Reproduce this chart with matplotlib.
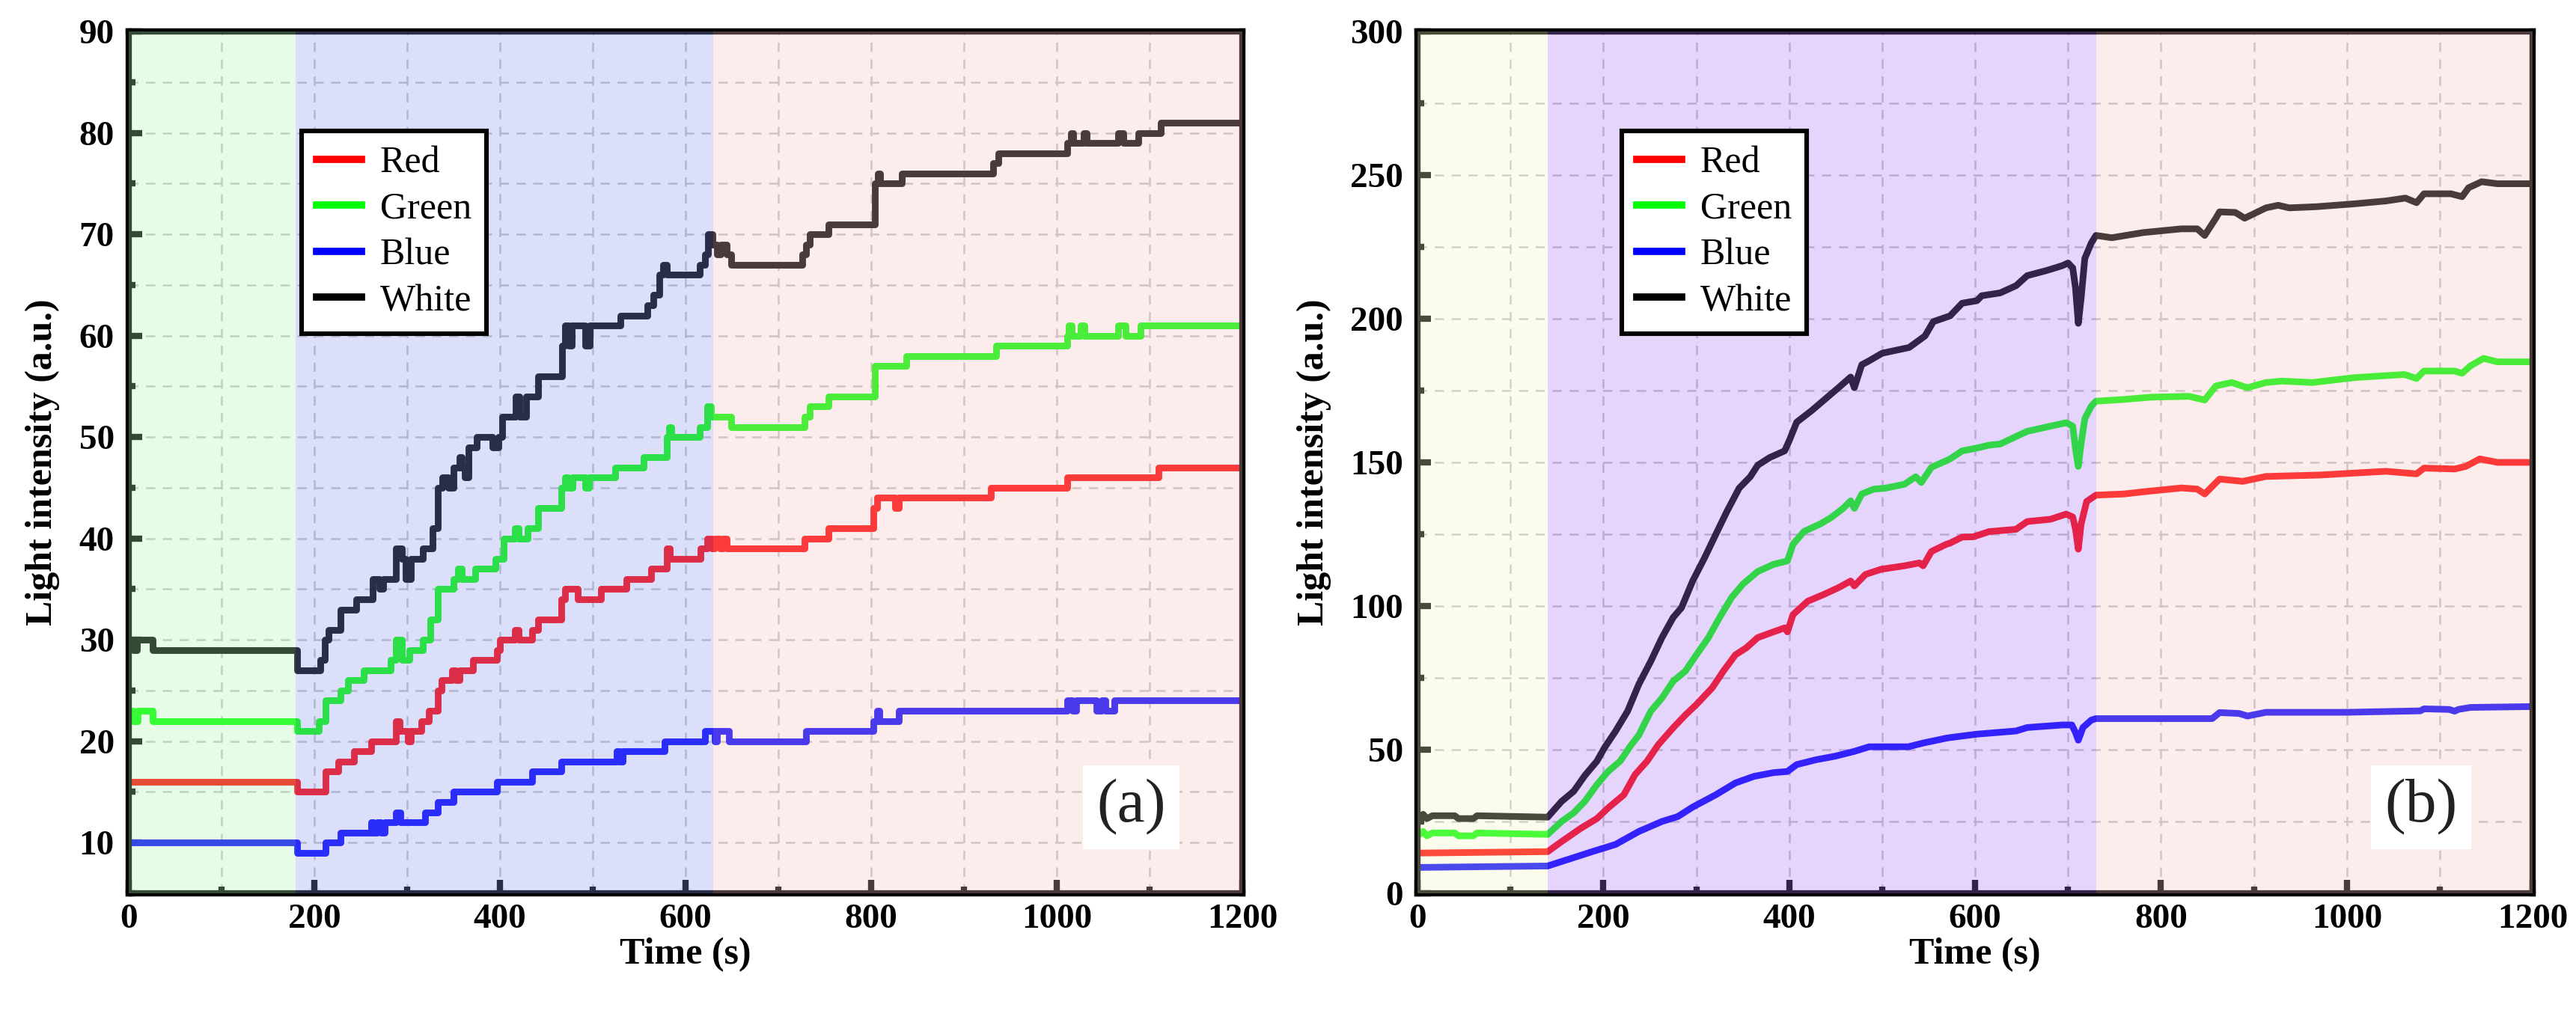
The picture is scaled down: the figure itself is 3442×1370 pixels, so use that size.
import matplotlib
matplotlib.use("Agg")
import matplotlib.pyplot as plt
from matplotlib.ticker import MultipleLocator

plt.rcParams['font.family'] = ['Liberation Serif', 'DejaVu Serif']
plt.rcParams['font.weight'] = 'bold'

# ---------------- panel (a): step-like readings ----------------
a_white_t = [0, 5, 9, 26, 181, 206, 211, 215, 228, 245, 263, 270, 274, 288, 294, 298, 304, 317, 327, 333,
             338, 344, 350, 356, 359, 362, 366, 375, 392, 398, 402, 417, 421, 428, 441, 467, 470, 474, 477,
             492, 497, 530, 559, 565, 572, 576, 580, 615, 621, 624, 629, 634, 638, 644, 649, 726, 730, 734,
             754, 804, 807, 810, 833, 931, 937, 1011, 1015, 1018, 1029, 1032, 1066, 1072, 1088, 1112, 1200]
a_white_v = [30, 29, 30, 29, 27, 28, 30, 31, 33, 34, 36, 35, 36, 39, 38, 36, 38, 39, 41, 45,
             46, 45, 47, 48, 47, 46, 49, 50, 49, 50, 52, 54, 52, 54, 56, 59, 61, 59, 61,
             59, 61, 62, 63, 64, 66, 67, 66, 67, 68, 70, 69, 68, 69, 68, 67, 68, 69, 70,
             71, 75, 76, 75, 76, 77, 78, 79, 80, 79, 80, 79, 80, 79, 80, 81, 81]

a_green_t = [0, 5, 10, 26, 181, 205, 212, 228, 236, 253, 282, 288, 294, 302, 317, 325, 333, 350, 355, 359,
             373, 395, 404, 416, 420, 430, 441, 466, 470, 473, 478, 492, 496, 524, 555, 580, 582, 585, 615,
             623, 627, 649, 728, 734, 754, 804, 838, 935, 1011, 1013, 1016, 1026, 1030, 1066, 1074, 1090, 1200]
a_green_v = [23, 22, 23, 22, 21, 22, 24, 25, 26, 27, 28, 30, 28, 29, 30, 32, 35, 36, 37, 36,
             37, 38, 40, 41, 40, 41, 43, 45, 46, 45, 46, 45, 46, 47, 48, 50, 51, 50, 51,
             53, 52, 51, 52, 53, 54, 57, 58, 59, 60, 61, 60, 61, 60, 61, 60, 61, 61]

a_red_t = [0, 181, 212, 226, 243, 261, 288, 292, 301, 304, 315, 323, 333, 337, 348, 352, 356, 371, 397, 400,
           416, 420, 435, 441, 466, 470, 484, 509, 536, 563, 580, 583, 616, 623, 628, 631, 637, 640, 644,
           728, 754, 802, 806, 826, 830, 929, 1011, 1110, 1200]
a_red_v = [16, 15, 17, 18, 19, 20, 22, 21, 20, 21, 22, 23, 25, 26, 27, 26, 27, 28, 29, 30,
           31, 30, 31, 32, 34, 35, 34, 35, 36, 37, 39, 38, 39, 40, 39, 40, 39, 40, 39,
           40, 41, 43, 44, 43, 44, 45, 46, 47, 47]

a_blue_t = [0, 181, 212, 228, 261, 264, 268, 272, 276, 288, 293, 319, 333, 350, 397, 435, 466, 526, 529, 532,
            577, 621, 631, 634, 647, 730, 802, 806, 809, 830, 1011, 1017, 1021, 1043, 1048, 1052, 1062, 1200]
a_blue_v = [10, 9, 10, 11, 12, 11, 12, 11, 12, 13, 12, 13, 14, 15, 16, 17, 18, 19, 18, 19,
            20, 21, 20, 21, 20, 21, 22, 23, 22, 23, 24, 23, 24, 23, 24, 23, 24, 24]

# ---------------- panel (b): continuous readings ----------------
b_white_t = [0, 6, 10, 16, 40, 44, 60, 64, 140, 155, 168, 180, 193, 201, 213, 226, 238, 251, 263, 275,
             284, 296, 309, 321, 333, 346, 358, 366, 379, 395, 400, 408, 424, 441, 453, 466, 470, 478, 484,
             500, 529, 546, 555, 573, 586, 602, 607, 627, 644, 656, 677, 694, 700, 705, 708, 711, 714, 718,
             725, 730, 747, 781, 822, 839, 847, 859, 863, 880, 890, 913, 926, 938, 967, 1008, 1042, 1063,
             1075, 1083, 1112, 1124, 1131, 1145, 1162, 1200]
b_white_v = [26, 27.5, 26, 27, 27, 26, 26, 27, 26.5, 32, 35.5, 41, 46, 50.6, 56.4, 63.4, 72.7, 80.8, 89, 96,
             99.4, 108.7, 116.9, 125, 133, 141, 145, 149, 151.7, 154, 157.6, 164, 168, 172.7, 176, 179.7, 176,
             184, 185, 188, 190, 194, 199, 201, 205.4, 206.3, 208, 209, 211.5, 215, 216.8, 218.5, 219.4, 217.7,
             210.7, 198.4, 207, 221, 226.4, 229, 228.2, 230, 231.3, 231.3, 229, 235, 237.2, 237, 235, 238.6,
             239.5, 238.6, 239, 240, 241, 242, 240.4, 243.5, 243.5, 242.5, 245.6, 247.7, 247, 247]

b_green_t = [0, 6, 10, 16, 40, 44, 60, 64, 140, 155, 168, 180, 193, 205, 218, 230, 238, 251, 263, 275,
             288, 300, 313, 325, 338, 350, 366, 383, 398, 404, 416, 433, 445, 458, 466, 470, 478, 491, 503,
             524, 536, 542, 553, 569, 573, 586, 602, 615, 627, 644, 656, 681, 698, 705, 708, 711, 714, 718,
             725, 730, 760, 789, 830, 847, 859, 876, 893, 913, 930, 963, 1008, 1062, 1075, 1083, 1116, 1124,
             1133, 1147, 1162, 1200]
b_green_v = [20, 21.5, 20, 21, 21, 20, 20, 21, 20.5, 25, 28, 32, 37.8, 42.4, 46, 51.7, 55, 63.4, 68, 73.8,
             77.3, 83, 89, 96, 103, 107.6, 112, 114.5, 115.7, 121.5, 126, 128.5, 130.8, 134, 136.6, 134, 139,
             140.7, 141, 142.4, 145, 143, 148.3, 150.6, 151.2, 154, 155, 156, 156.4, 159, 160.8, 162.6, 163.8,
             162.6, 154.7, 148.6, 156.5, 165.2, 169.6, 171.3, 171.9, 172.7, 173, 171.7, 176.6, 177.8, 176,
             177.8, 178.3, 177.8, 179.5, 180.6, 179.2, 181.8, 181.8, 181, 183.6, 186.2, 185, 185]

b_red_t = [0, 140, 155, 176, 193, 205, 222, 234, 247, 259, 275, 288, 300, 317, 329, 342, 354, 366, 383, 395,
           398, 404, 420, 437, 453, 466, 470, 482, 499, 524, 540, 544, 553, 569, 573, 586, 598, 615, 644,
           656, 681, 698, 705, 708, 711, 714, 720, 730, 760, 785, 822, 839, 847, 863, 888, 913, 971, 1042,
           1075, 1083, 1116, 1128, 1143, 1162, 1200]
b_red_v = [14, 14.5, 18, 22.7, 26, 29.7, 34.3, 41.3, 46, 51.7, 57.6, 62, 65.7, 71.5, 77.3, 83, 85.5, 89, 91,
           92.4, 91, 97, 101.7, 104, 106.4, 108.7, 107, 111, 112.8, 114, 115, 114, 119, 121.5, 121.9, 124,
           124.1, 125.9, 126.7, 129.4, 130.2, 132, 131, 126.7, 119.8, 128.5, 136.4, 138.6, 139, 139.9, 141.1,
           140.7, 139, 144.2, 143.4, 145.1, 145.6, 146.9, 146, 148, 147.7, 148.6, 151.2, 150, 150]

b_blue_t = [0, 140, 164, 188, 213, 238, 263, 280, 296, 321, 342, 362, 383, 398, 408, 429, 449, 470, 486, 528,
            544, 569, 573, 602, 644, 656, 694, 704, 708, 711, 716, 725, 730, 752, 855, 863, 884, 893, 913,
            1000, 1079, 1083, 1110, 1116, 1120, 1133, 1200]
b_blue_v = [9, 9.5, 12, 14.5, 17, 21.5, 25, 26.7, 30, 34.3, 38.4, 40.7, 42, 42.4, 44.8, 46.5, 47.7, 49.4, 51, 51,
            52.3, 54, 54.2, 55.4, 56.5, 57.7, 58.6, 58.6, 56, 53.3, 57.7, 60.3, 60.8, 60.8, 60.8, 62.9, 62.6,
            61.7, 63, 63, 63.5, 64.2, 64, 63.4, 64, 64.7, 65]

labels = ["Red", "Green", "Blue", "White"]
colors = ["#ff0000", "#00ff00", "#0000ff", "#000000"]

a_spans = [(0, 180, "#b1f7b1"), (180, 630, "#8c96f0"), (630, 1200, "#f7c1c1")]
b_spans = [(0, 140, "#f7f7c1"), (140, 730, "#aa71f7"), (730, 1200, "#f7c1c1")]


def style_axes(ax, ylim, ymajor, yminor):
    ax.set_xlim(0, 1200)
    ax.set_ylim(*ylim)
    ax.xaxis.set_major_locator(MultipleLocator(200))
    ax.xaxis.set_minor_locator(MultipleLocator(100))
    ax.yaxis.set_major_locator(MultipleLocator(ymajor))
    ax.yaxis.set_minor_locator(MultipleLocator(yminor))
    ax.grid(which="both", color="#c4c4c4", linestyle=(0, (5, 4)), linewidth=0.9)
    ax.tick_params(which="both", direction="in", top=False, right=False, width=3, color="black",
                   labelsize=17)
    ax.tick_params(which="major", length=6.5)
    ax.tick_params(which="minor", length=3.2)
    ax.tick_params(axis="x", pad=5)
    ax.tick_params(axis="y", pad=7)
    for sp in ax.spines.values():
        sp.set_linewidth(3)
        sp.set_color("black")
    ax.set_xlabel("Time (s)", fontsize=18, fontweight="bold", labelpad=1)
    ax.set_ylabel("Light intensity (a.u.)", fontsize=18, fontweight="bold", labelpad=9)


fig = plt.figure(figsize=(17.21, 6.85), dpi=200)
ax1 = fig.add_axes([0.05, 0.1285, 0.4323, 0.8408])
ax2 = fig.add_axes([0.5503, 0.1285, 0.4329, 0.8408])

a_series = [(a_red_t, a_red_v), (a_green_t, a_green_v), (a_blue_t, a_blue_v), (a_white_t, a_white_v)]
b_series = [(b_red_t, b_red_v), (b_green_t, b_green_v), (b_blue_t, b_blue_v), (b_white_t, b_white_v)]

for (t, v), c, lab in zip(a_series, colors, labels):
    ax1.plot(t, v, color=c, lw=3.2, label=lab, drawstyle="steps-post", zorder=2)
for (t, v), c, lab in zip(b_series, colors, labels):
    ax2.plot(t, v, color=c, lw=3.2, label=lab, zorder=2)

# shaded stages sit on top with low alpha, so they tint lines and ticks
for ax, spans in ((ax1, a_spans), (ax2, b_spans)):
    for x0, x1, c in spans:
        ax.axvspan(x0, x1, color=c, alpha=0.3, lw=0, zorder=3)

style_axes(ax1, (5, 90), 10, 5)
style_axes(ax2, (0, 300), 50, 25)

for ax, anchor, tag in ((ax1, (0.155, 0.885), "(a)"), (ax2, (0.183, 0.885), "(b)")):
    leg = ax.legend(loc="upper left", bbox_to_anchor=anchor, prop={"size": 18, "weight": "normal"},
                    frameon=True, fancybox=False, framealpha=1, edgecolor="black", handlelength=1.2,
                    handletextpad=0.5, labelspacing=0.3, borderpad=0.4, borderaxespad=0)
    leg.get_frame().set_linewidth(2.2)
    leg.set_zorder(7)
    for h in leg.get_lines():
        h.set_linewidth(3.5)
    ax.text(0.9, 0.1, tag, transform=ax.transAxes, ha="center", va="center", fontsize=30,
            fontweight="normal", color="#222222", zorder=6,
            bbox=dict(boxstyle="square,pad=0.22", facecolor="white", edgecolor="none"))

fig.savefig("out.png", dpi=200)
